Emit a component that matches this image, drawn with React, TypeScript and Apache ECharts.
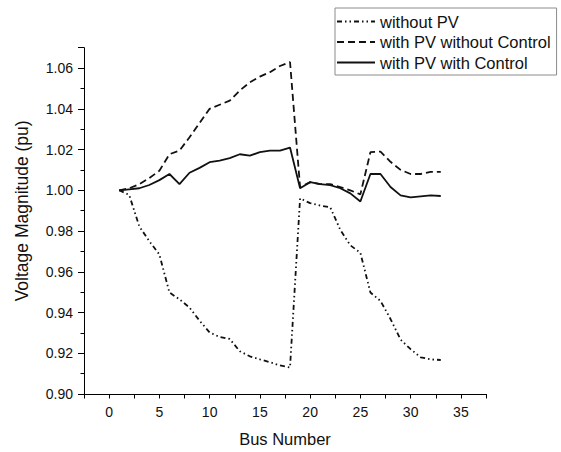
import React, { useEffect, useRef } from "react";
import * as echarts from "echarts";

const buses = Array.from({ length: 33 }, (_, i) => i + 1);

const withoutPV = [
  1.0, 0.9977, 0.9823, 0.975, 0.9685, 0.9498, 0.9465, 0.9424, 0.936, 0.9302,
  0.928, 0.927, 0.921, 0.9185, 0.917, 0.9156, 0.914, 0.913, 0.996, 0.9937,
  0.9925, 0.9917, 0.9806, 0.973, 0.9693, 0.9498, 0.9457, 0.9368, 0.9267, 0.922,
  0.918, 0.917, 0.9167,
];

const withPVNoControl = [
  1.0, 1.001, 1.003, 1.006, 1.0096, 1.0177, 1.0195, 1.026, 1.033, 1.04,
  1.042, 1.044, 1.049, 1.053, 1.0558, 1.058, 1.061, 1.063, 1.0015, 1.004,
  1.003, 1.003, 1.0016, 1.0, 0.998, 1.0187, 1.019, 1.014, 1.01, 1.008,
  1.008, 1.009, 1.009,
];

const withPVControl = [
  1.0, 1.0005, 1.001, 1.0026, 1.005, 1.008, 1.003, 1.0086, 1.011, 1.0138,
  1.0146, 1.0158, 1.0177, 1.017, 1.0187, 1.0195, 1.0195, 1.021, 1.001, 1.004,
  1.003, 1.0025, 1.001, 0.9985, 0.9945, 1.008, 1.008, 1.0016, 0.9975, 0.9965,
  0.997, 0.9975, 0.9972,
];

const X_MIN = -2.5;
const X_MAX = 37.5;
const X_TICK = 2.5;
const X_LABEL_STEP = 5;
const Y_MIN = 0.9;
const Y_MAX = 1.07;
const Y_TICK = 0.02;

const FONT = 'Arial, "Liberation Sans", sans-serif';

const W = 561;
const H = 452;

export default function App() {
  const ref = useRef<HTMLDivElement>(null);
  useEffect(() => {
    if (!ref.current) return;
    const chart = echarts.init(ref.current, null, { renderer: "svg" });
    const pair = (ys: number[]) => buses.map((b, i) => [b, ys[i]]);
    const isMultiple = (v: number, step: number) =>
      Math.abs(v / step - Math.round(v / step)) < 1e-6;
    const lineCommon = { type: "line", symbol: "none" };
    chart.setOption({
      animation: false,
      backgroundColor: "#ffffff",
      textStyle: { fontFamily: FONT },
      grid: { left: 84, right: 75, top: 47.7, bottom: 56.7 },
      legend: {
        orient: "vertical",
        left: 335,
        top: 8,
        padding: [5, 6, 4, 1],
        borderColor: "#8c8c8c",
        borderWidth: 1,
        itemWidth: 38,
        itemHeight: 16,
        itemGap: 3.5,
        itemStyle: { opacity: 0 },
        textStyle: { fontSize: 16.5, color: "#111", fontFamily: FONT },
        data: ["without PV", "with PV without Control", "with PV with Control"],
      },
      xAxis: {
        type: "value",
        min: X_MIN,
        max: X_MAX,
        interval: X_TICK,
        name: "Bus Number",
        nameLocation: "middle",
        nameGap: 36,
        nameTextStyle: { fontSize: 16.5, color: "#111", fontFamily: FONT },
        axisLine: { show: true, onZero: false, lineStyle: { color: "#000", width: 1 } },
        axisTick: { show: true, length: 4.5, lineStyle: { color: "#000" } },
        axisLabel: {
          margin: 11,
          fontSize: 14,
          color: "#111",
          fontFamily: FONT,
          showMinLabel: true,
          showMaxLabel: true,
          formatter: (v: number) => (isMultiple(v, X_LABEL_STEP) ? String(Math.round(v)) : ""),
        },
        splitLine: { show: false },
      },
      yAxis: {
        type: "value",
        min: Y_MIN,
        max: Y_MAX,
        interval: Y_TICK,
        name: "Voltage Magnitude (pu)",
        nameLocation: "middle",
        nameGap: 53,
        nameTextStyle: {
          fontSize: 17.5,
          color: "#111",
          fontFamily: FONT,
          padding: [0, 0, 0, 20],
        },
        axisLine: { show: true, onZero: false, lineStyle: { color: "#000", width: 1 } },
        axisTick: { show: true, length: 6, lineStyle: { color: "#000" } },
        minorTick: { show: true, splitNumber: 2, length: 3.5, lineStyle: { color: "#000", width: 1 } },
        axisLabel: {
          margin: 11,
          fontSize: 14,
          color: "#111",
          fontFamily: FONT,
          formatter: (v: number) => (isMultiple(v, Y_TICK) ? v.toFixed(2) : ""),
        },
        splitLine: { show: false },
        minorSplitLine: { show: false },
      },
      series: [
        {
          ...lineCommon,
          name: "without PV",
          data: pair(withoutPV),
          lineStyle: { color: "#111", width: 1.8, type: [5, 3, 1.5, 3, 1.5, 3] },
          itemStyle: { color: "#111" },
        },
        {
          ...lineCommon,
          name: "with PV without Control",
          data: pair(withPVNoControl),
          lineStyle: { color: "#111", width: 1.8, type: [7, 4] },
          itemStyle: { color: "#111" },
        },
        {
          ...lineCommon,
          name: "with PV with Control",
          data: pair(withPVControl),
          lineStyle: { color: "#111", width: 1.8, type: "solid" },
          itemStyle: { color: "#111" },
        },
      ],
    });
    return () => chart.dispose();
  }, []);
  return (
    <div
      ref={ref}
      style={{ position: "fixed", left: 0, top: 0, width: W, height: H, background: "#fff" }}
    />
  );
}
